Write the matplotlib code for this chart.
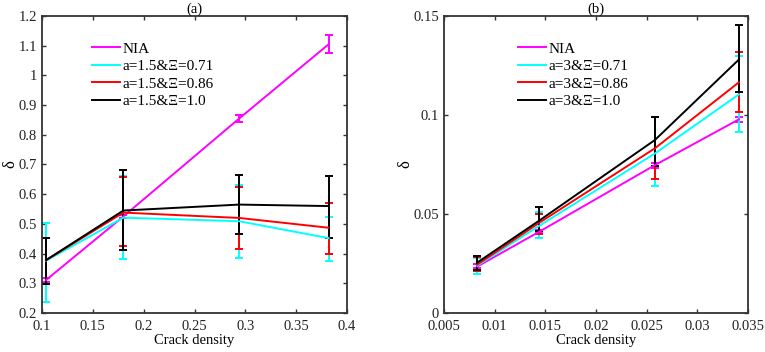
import matplotlib.pyplot as plt
from matplotlib.ticker import FuncFormatter

plt.rcParams['font.family'] = ['Liberation Serif', 'DejaVu Serif']

# ---- panel (a) data ----
xa = [0.104, 0.180, 0.294, 0.382]
a_labels = ["NIA", "a=1.5&Ξ=0.71", "a=1.5&Ξ=0.86", "a=1.5&Ξ=1.0"]
a_nia = [0.311, 0.525, 0.855, 1.105]
a_nia_lo = [0.304, 0.520, 0.844, 1.075]
a_nia_hi = [0.318, 0.530, 0.867, 1.137]
a_071 = [0.376, 0.521, 0.509, 0.452]
a_071_lo = [0.238, 0.382, 0.384, 0.376]
a_071_hi = [0.503, 0.662, 0.630, 0.524]
a_086 = [0.378, 0.538, 0.520, 0.487]
a_086_lo = [0.298, 0.424, 0.414, 0.399]
a_086_hi = [0.453, 0.658, 0.624, 0.571]
a_100 = [0.378, 0.545, 0.565, 0.560]
a_100_lo = [0.296, 0.411, 0.466, 0.453]
a_100_hi = [0.451, 0.681, 0.663, 0.662]

# ---- panel (b) data ----
xb = [0.00829, 0.01438, 0.02582, 0.03410]
b_labels = ["NIA", "a=3&Ξ=0.71", "a=3&Ξ=0.86", "a=3&Ξ=1.0"]
b_nia = [0.0235, 0.0410, 0.0747, 0.0978]
b_nia_lo = [0.0225, 0.0402, 0.0731, 0.0965]
b_nia_hi = [0.0245, 0.0418, 0.0756, 0.0990]
b_071 = [0.0240, 0.0440, 0.0806, 0.1104]
b_071_lo = [0.0195, 0.0377, 0.0641, 0.0916]
b_071_hi = [0.0280, 0.0510, 0.0990, 0.1300]
b_086 = [0.0245, 0.0455, 0.0832, 0.1165]
b_086_lo = [0.0210, 0.0400, 0.0677, 0.1015]
b_086_hi = [0.0285, 0.0498, 0.0990, 0.1320]
b_100 = [0.0255, 0.0466, 0.0874, 0.1280]
b_100_lo = [0.0217, 0.0412, 0.0744, 0.1114]
b_100_hi = [0.0286, 0.0534, 0.0992, 0.1456]

colors = ["#ff00ff", "#00ffff", "#ff0000", "#000000"]
fmt = FuncFormatter(lambda v, p: "%g" % round(v, 4))


def draw(ax, x, series, labels):
    for (y, lo, hi), c, lab in zip(series, colors, labels):
        yerr = [[v - l for v, l in zip(y, lo)], [h - v for v, h in zip(y, hi)]]
        ax.errorbar(x, y, yerr=yerr, color=c, lw=1.4, elinewidth=1.4,
                    capsize=3, capthick=1.4, label=lab)
    ax.tick_params(direction='in', top=True, right=True, labelsize=10.5,
                   length=3, width=1, colors='#333333', labelcolor='#222222')
    ax.tick_params(axis='x', pad=5)
    for sp in ax.spines.values():
        sp.set_linewidth(1.3)
        sp.set_color('#333333')
    ax.xaxis.set_major_formatter(fmt)
    ax.yaxis.set_major_formatter(fmt)
    ax.set_xlabel("Crack density", fontsize=10.5, labelpad=1)
    ax.set_ylabel("δ", fontsize=12, labelpad=0)


fig = plt.figure(figsize=(7.65, 3.52), dpi=100)

ax1 = fig.add_axes([0.0549, 0.1108, 0.3987, 0.8438])
draw(ax1, xa, [(a_nia, a_nia_lo, a_nia_hi), (a_071, a_071_lo, a_071_hi),
               (a_086, a_086_lo, a_086_hi), (a_100, a_100_lo, a_100_hi)], a_labels)
ax1.set_xlim(0.1, 0.4)
ax1.set_ylim(0.2, 1.2)
ax1.set_xticks([0.1, 0.15, 0.2, 0.25, 0.3, 0.35, 0.4])
ax1.set_yticks([0.2, 0.3, 0.4, 0.5, 0.6, 0.7, 0.8, 0.9, 1.0, 1.1, 1.2])
ax1.set_title("(a)", fontsize=10.5, pad=2)

ax2 = fig.add_axes([0.5804, 0.1108, 0.3974, 0.8438])
draw(ax2, xb, [(b_nia, b_nia_lo, b_nia_hi), (b_071, b_071_lo, b_071_hi),
               (b_086, b_086_lo, b_086_hi), (b_100, b_100_lo, b_100_hi)], b_labels)
ax2.set_xlim(0.005, 0.035)
ax2.set_ylim(0, 0.15)
ax2.set_xticks([0.005, 0.01, 0.015, 0.02, 0.025, 0.03, 0.035])
ax2.set_yticks([0, 0.05, 0.1, 0.15])
ax2.set_title("(b)", fontsize=10.5, pad=2)

for ax, anchor in [(ax1, (0.164, 0.912)), (ax2, (0.243, 0.912))]:
    handles, labels = ax.get_legend_handles_labels()
    handles = [h[0] for h in handles]
    ax.legend(handles, labels, loc='upper left', bbox_to_anchor=anchor,
              frameon=False, fontsize=11, handlelength=1.85,
              handletextpad=0.15, labelspacing=0.25, borderpad=0,
              borderaxespad=0)

fig.savefig("out.png", dpi=100)
